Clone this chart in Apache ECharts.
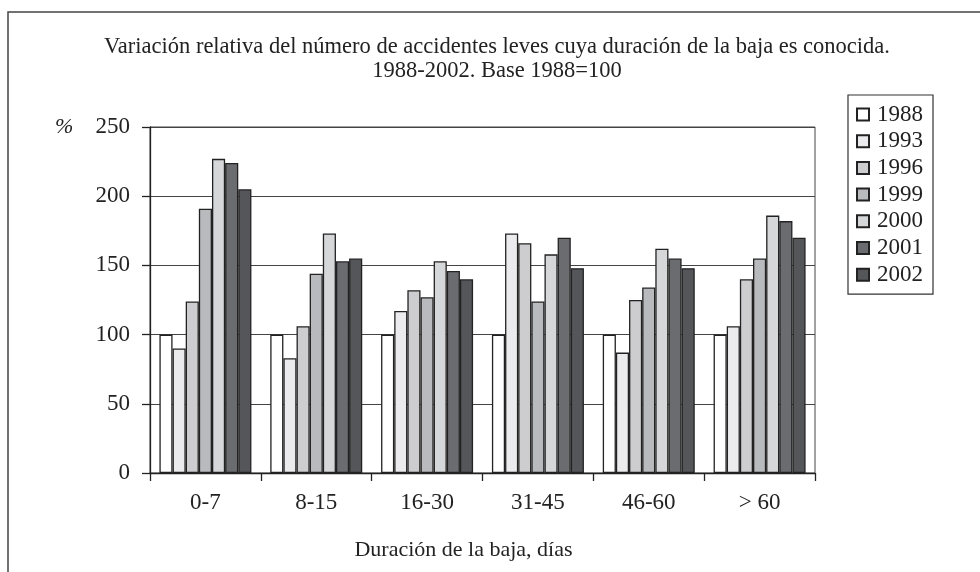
<!DOCTYPE html>
<html>
<head>
<meta charset="utf-8">
<script src="https://cdn.jsdelivr.net/npm/echarts@6/dist/echarts.min.js"></script>
<style>
  html, body { margin: 0; padding: 0; background: #fff; }
  #chart { width: 980px; height: 572px; }
</style>
</head>
<body>
<div id="chart"></div>
<script>
// categorías (duración de la baja)
var categories = ['0-7', '8-15', '16-30', '31-45', '46-60', '> 60'];
var years = ['1988', '1993', '1996', '1999', '2000', '2001', '2002'];
var yTicks = [0, 50, 100, 150, 200, 250];

// valores, base 1988 = 100
var v1988 = [100, 100, 100, 100, 100, 100];
var v1993 = [90, 83, 117, 173, 87, 106];
var v1996 = [124, 106, 132, 166, 125, 140];
var v1999 = [191, 144, 127, 124, 134, 155];
var v2000 = [227, 173, 153, 158, 162, 186];
var v2001 = [224, 153, 146, 170, 155, 182];
var v2002 = [205, 155, 140, 148, 148, 170];

var values = [v1988, v1993, v1996, v1999, v2000, v2001, v2002];
var colors = ['#ffffff', '#ebebed', '#cdcdcf', '#b9babd', '#d6d7d9', '#6b6c70', '#55565a'];

var font = '"Liberation Serif", "Times New Roman", serif';

var myChart = echarts.init(document.getElementById('chart'));

var series = years.map(function (y, i) {
    return {
        name: y,
        type: 'bar',
        data: values[i],
        barGap: '0%',
        barCategoryGap: '17%',
        itemStyle: {
            color: colors[i],
            borderColor: '#222',
            borderWidth: 1.3
        },
        emphasis: {disabled: true}
    };
});

myChart.setOption({
    animation: false,
    backgroundColor: '#fff',
    textStyle: {fontFamily: font},
    title: {
        text: 'Variación relativa del número de accidentes leves cuya duración de la baja es conocida.\n1988-2002. Base 1988=100',
        left: 492,
        top: 30,
        textAlign: 'center',
        textStyle: {
            fontFamily: font,
            fontWeight: 'normal',
            fontSize: 22.5,
            lineHeight: 24,
            color: '#222'
        }
    },
    legend: {
        orient: 'vertical',
        left: 848,
        top: 95,
        data: years,
        icon: 'rect',
        itemWidth: 12,
        itemHeight: 12,
        itemGap: 3.7,
        padding: [8, 10, 8, 8],
        borderColor: '#333',
        borderWidth: 1.2,
        textStyle: {fontFamily: font, fontSize: 23, lineHeight: 22, color: '#222', padding: [0, 0, 0, 3]}
    },
    grid: {
        left: 150,
        right: 165,
        top: 127,
        bottom: 99,
        show: true,
        borderColor: '#444',
        borderWidth: 1
    },
    xAxis: {
        type: 'category',
        data: categories,
        name: 'Duración de la baja, días',
        nameLocation: 'middle',
        nameGap: 66,
        nameTextStyle: {fontFamily: font, fontSize: 22, color: '#222', padding: [0, 38, 0, 0]},
        axisLine: {lineStyle: {color: '#222', width: 1.3}},
        axisTick: {show: true, length: 8, lineStyle: {color: '#222', width: 1.3}},
        axisLabel: {fontFamily: font, fontSize: 23, color: '#222', margin: 18}
    },
    yAxis: {
        type: 'value',
        min: 0,
        max: 250,
        interval: 50,
        axisLine: {show: true, lineStyle: {color: '#222', width: 1.3}},
        axisTick: {show: true, length: 8, lineStyle: {color: '#222', width: 1.3}},
        axisLabel: {fontFamily: font, fontSize: 23, color: '#222', margin: 20,
            formatter: function (v) { return yTicks.indexOf(v) >= 0 ? String(v) : ''; }},
        splitLine: {show: true, lineStyle: {color: '#444', width: 1.2}}
    },
    graphic: [
        {
            type: 'rect',
            shape: {x: 8, y: 12, width: 990, height: 600},
            style: {fill: 'none', stroke: '#444', lineWidth: 1.5},
            silent: true
        },
        {
            type: 'text',
            left: 55,
            top: 116,
            style: {text: '%', font: 'italic 22px ' + font, fill: '#222'}
        }
    ],
    series: series
});
</script>
</body>
</html>
